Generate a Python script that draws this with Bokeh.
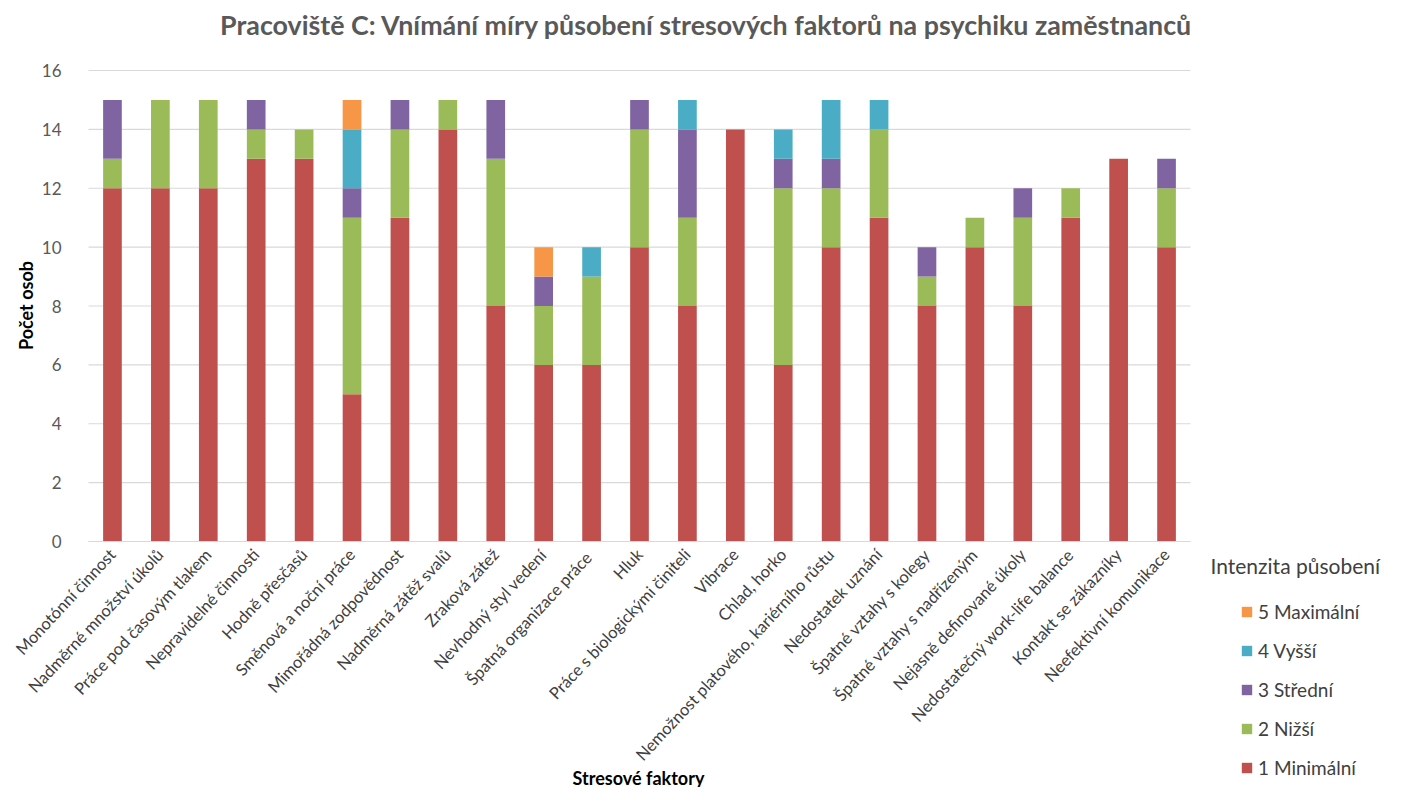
import math
from bokeh.plotting import figure
from bokeh.models import Legend, LegendItem, Label, ColumnDataSource, FixedTicker, Range1d
from bokeh.embed import file_html
from bokeh.resources import INLINE

categories = [
    "Monotónní činnost", "Nadměrné množství úkolů", "Práce pod časovým tlakem",
    "Nepravidelné činnosti", "Hodně přesčasů", "Směnová a noční práce",
    "Mimořádná zodpovědnost", "Nadměrná zátěž svalů", "Zraková zátež",
    "Nevhodný styl vedení", "Špatná organizace  práce", "Hluk",
    "Práce s biologickými činiteli", "Vibrace", "Chlad, horko",
    "Nemožnost platového, kariérního růstu", "Nedostatek uznání",
    "Špatné vztahy s kolegy", "Špatné vztahy s nadřízeným",
    "Nejasně definované úkoly", "Nedostatečný work-life balance",
    "Kontakt se zákazníky", "Neefektivní komunikace",
]
series_names = ["1 Minimální", "2 Nižší", "3 Střední", "4 Vyšší", "5 Maximální"]
s1 = [12, 12, 12, 13, 13, 5, 11, 14, 8, 6, 6, 10, 8, 14, 6, 10, 11, 8, 10, 8, 11, 13, 10]
s2 = [1, 3, 3, 1, 1, 6, 3, 1, 5, 2, 3, 4, 3, 0, 6, 2, 3, 1, 1, 3, 1, 0, 2]
s3 = [2, 0, 0, 1, 0, 1, 1, 0, 2, 1, 0, 1, 3, 0, 1, 1, 0, 1, 0, 1, 0, 0, 1]
s4 = [0, 0, 0, 0, 0, 2, 0, 0, 0, 0, 1, 0, 1, 0, 1, 2, 1, 0, 0, 0, 0, 0, 0]
s5 = [0, 0, 0, 0, 0, 1, 0, 0, 0, 1, 0, 0, 0, 0, 0, 0, 0, 0, 0, 0, 0, 0, 0]
colors = ["#C0504D", "#9BBB59", "#8064A2", "#4BACC6", "#F79646"]
y_ticks = [0, 2, 4, 6, 8, 10, 12, 14, 16]
title_text = "Pracoviště C: Vnímání míry působení stresových faktorů na psychiku zaměstnanců"
legend_title = "Intenzita působení"
x_title = "Stresové faktory"
y_title = "Počet osob"

FONT = "Lato"

# ---- layout (pixels) ----
W, H = 1389, 787
LEFT = 88            # plot-area left edge
PLOT_W = 1102        # width of the bar area
PLOT_TOP = 70        # y of top gridline
PLOT_BOTTOM = 541    # y of zero line
n = len(categories)
ymax = y_ticks[-1]
px_x = PLOT_W / n
px_y = (PLOT_BOTTOM - PLOT_TOP) / ymax
x_start = -LEFT / px_x
x_end = (W - LEFT) / px_x
y_start = -(H - PLOT_BOTTOM) / px_y
y_end = ymax + PLOT_TOP / px_y

xpos = [i + 0.5 for i in range(n)]
source = ColumnDataSource(dict(x=xpos, s1=s1, s2=s2, s3=s3, s4=s4, s5=s5))

p = figure(x_range=Range1d(x_start, x_end), y_range=Range1d(y_start, y_end),
           width=W, height=H, output_backend="svg", toolbar_location=None,
           min_border_left=0, min_border_right=0, min_border_top=0, min_border_bottom=0)

# gridlines over the bar area only
p.grid.visible = False
p.segment(x0=[0] * len(y_ticks), x1=[n] * len(y_ticks), y0=y_ticks, y1=y_ticks,
          line_color="#d9d9d9", line_width=1.2)

renderers = p.vbar_stack(["s1", "s2", "s3", "s4", "s5"], x="x", width=0.39,
                         color=colors, line_color=None, source=source)

p.outline_line_color = None

p.yaxis.fixed_location = 0
p.yaxis.ticker = FixedTicker(ticks=y_ticks)
p.yaxis.bounds = (0, ymax)
p.yaxis.axis_line_color = None
p.yaxis.major_tick_line_color = None
p.yaxis.minor_tick_line_color = None
p.yaxis.major_label_text_font = FONT
p.yaxis.major_label_text_font_size = "17px"
p.yaxis.major_label_text_color = "#595959"
p.yaxis.major_label_standoff = 21

p.xaxis.fixed_location = 0
p.xaxis.bounds = (0, n)
p.xaxis.ticker = FixedTicker(ticks=xpos)
p.xaxis.major_label_overrides = {xv: c for xv, c in zip(xpos, categories)}
p.xaxis.axis_line_color = "#d9d9d9"
p.xaxis.axis_line_width = 1.2
p.xaxis.major_tick_line_color = None
p.xaxis.minor_tick_line_color = None
p.xaxis.major_label_orientation = 0.82
p.xaxis.major_label_text_font = FONT
p.xaxis.major_label_text_font_size = "16.5px"
p.xaxis.major_label_text_color = "#404040"
p.xaxis.major_label_standoff = 4

# the frame covers the whole canvas: screen units below are canvas pixels
# (x from the left edge, y from the bottom edge)
items = [LegendItem(label=series_names[i], renderers=[renderers[i]]) for i in range(4, -1, -1)]
legend = Legend(items=items, location=(1240, H - 779), padding=0, margin=0,
                border_line_color=None, background_fill_alpha=0,
                glyph_width=13, glyph_height=13, label_height=20, spacing=16,
                label_standoff=5,
                label_text_font=FONT, label_text_font_size="19px", label_text_color="#404040")
p.add_layout(legend, "center")

p.add_layout(Label(x=1210, y=H - 565, x_units="screen", y_units="screen",
                   text=legend_title, text_align="left", text_baseline="middle",
                   text_font=FONT, text_font_size="21px", text_color="#404040"))

p.add_layout(Label(x=706, y=H - 24, x_units="screen", y_units="screen",
                   text=title_text, text_align="center", text_baseline="middle",
                   text_font=FONT, text_font_size="26.8px", text_font_style="bold",
                   text_color="#595959"))

p.add_layout(Label(x=638, y=H - 777, x_units="screen", y_units="screen",
                   text=x_title, text_align="center", text_baseline="middle",
                   text_font=FONT, text_font_size="18px", text_font_style="bold",
                   text_color="#000000"))

p.add_layout(Label(x=25, y=H - 305, x_units="screen", y_units="screen",
                   text=y_title, text_align="center", text_baseline="middle", angle=math.pi / 2,
                   text_font=FONT, text_font_size="18px", text_font_style="bold",
                   text_color="#000000"))

open("out.html", "w").write(file_html(p, INLINE))
